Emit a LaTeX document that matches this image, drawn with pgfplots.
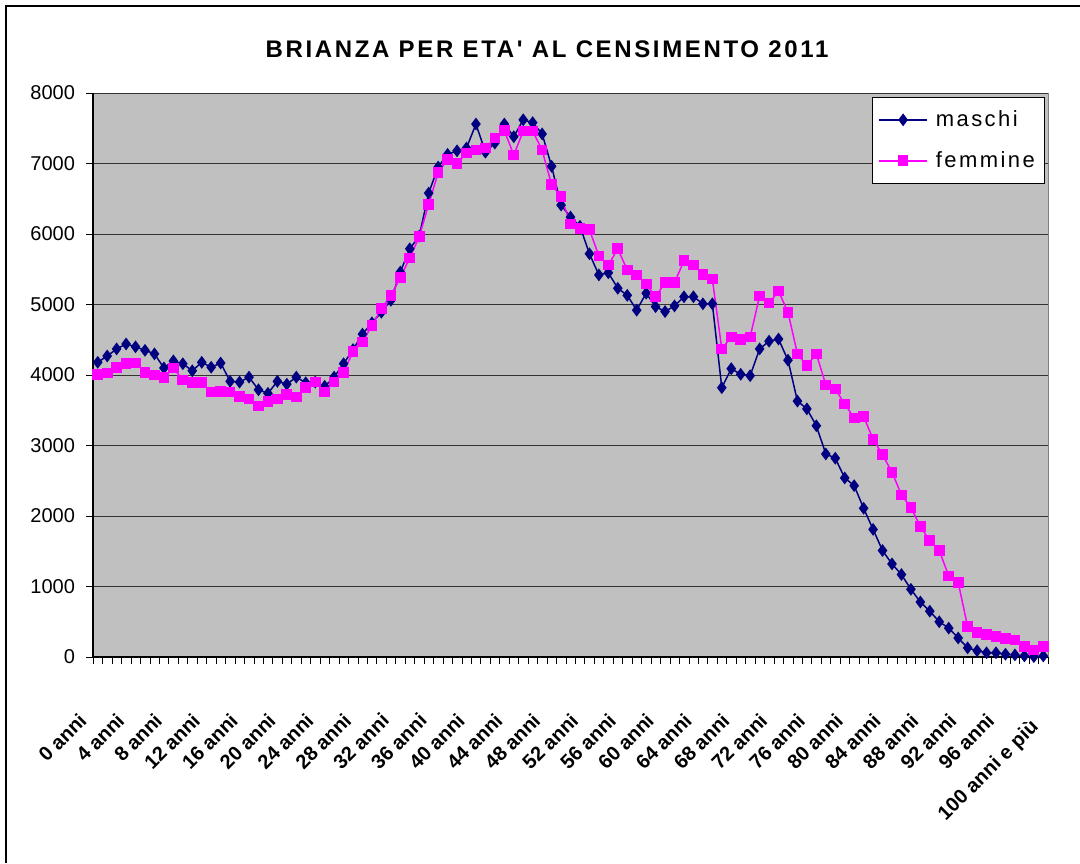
\documentclass[border=0pt]{standalone}
\usepackage{fontspec}
\setmainfont{Liberation Sans}
\newfontfamily\spacedfont[LetterSpace=11]{Liberation Sans}
\newfontfamily\titlefont[LetterSpace=11]{Liberation Sans}
\usepackage{pgfplots}
\usepackage{pgfplotstable}
\pgfplotsset{compat=1.18}

\definecolor{plotgray}{HTML}{C0C0C0}
\definecolor{maschi}{HTML}{000080}
\definecolor{femmine}{HTML}{FF00FF}

% residenti per eta' (maschi, femmine)
\pgfplotstableread{
eta maschi femmine
0 4180 4010
1 4270 4030
2 4370 4110
3 4440 4160
4 4400 4170
5 4350 4040
6 4300 4000
7 4100 3960
8 4200 4100
9 4160 3930
10 4060 3890
11 4180 3890
12 4110 3760
13 4170 3770
14 3910 3760
15 3900 3700
16 3970 3660
17 3790 3560
18 3740 3620
19 3910 3660
20 3870 3720
21 3970 3690
22 3890 3820
23 3900 3900
24 3840 3760
25 3970 3900
26 4160 4040
27 4360 4330
28 4580 4470
29 4740 4700
30 4890 4940
31 5060 5130
32 5460 5380
33 5790 5660
34 5970 5960
35 6580 6420
36 6950 6870
37 7130 7060
38 7180 7000
39 7220 7150
40 7560 7190
41 7160 7220
42 7290 7360
43 7560 7470
44 7380 7120
45 7620 7460
46 7580 7460
47 7420 7190
48 6960 6700
49 6410 6530
50 6240 6140
51 6110 6080
52 5720 6060
53 5420 5690
54 5450 5560
55 5230 5790
56 5130 5490
57 4920 5420
58 5160 5290
59 4970 5110
60 4900 5310
61 4980 5310
62 5110 5620
63 5110 5560
64 5010 5430
65 5010 5360
66 3820 4370
67 4090 4540
68 4010 4500
69 3990 4540
70 4370 5120
71 4480 5020
72 4510 5190
73 4210 4890
74 3630 4300
75 3520 4130
76 3280 4300
77 2880 3860
78 2820 3800
79 2540 3590
80 2430 3390
81 2110 3410
82 1810 3090
83 1510 2870
84 1320 2620
85 1170 2300
86 960 2120
87 780 1850
88 650 1650
89 500 1510
90 410 1150
91 270 1060
92 130 430
93 90 350
94 60 320
95 60 290
96 40 260
97 30 240
98 15 150
99 5 100
100 15 150
}\brianza

\begin{document}
\begin{tikzpicture}
\path[use as bounding box] (0,0) rectangle (540pt,431.5pt);
\draw[black, line width=0.6pt] (3pt,0) -- (3pt,428.5pt) -- (540pt,428.5pt);
\node[font=\titlefont\bfseries\fontsize{12}{14}\selectfont] at (273.5pt,407pt)
  {BRIANZA PER ETA' AL CENSIMENTO 2011};

\begin{axis}[
    at={(46.5pt,103pt)}, anchor=south west,
    scale only axis, width=477.5pt, height=282pt,
    xmin=-0.5, xmax=100.5, ymin=0, ymax=8000,
    clip=false,
    axis background/.style={fill=plotgray, draw=gray},
    axis x line*=bottom, axis y line*=left,
    axis line style={black, line width=0.6pt, -},
    tick align=outside,
    major tick length=3.5pt,
    ytick={0,1000,2000,3000,4000,5000,6000,7000,8000},
    ymajorgrids,
    major grid style={black!80, line width=0.5pt},
    tick style={black},
    /pgf/number format/assume math mode=true,
    /pgf/number format/set thousands separator={},
    yticklabel style={font=\fontsize{10}{12}\selectfont, xshift=-2pt},
    xtick={-0.5,0.5,...,100.5},
    xticklabels={},
    extra x ticks={0,4,8,12,16,20,24,28,32,36,40,44,48,52,56,60,64,68,72,76,80,84,88,92,96,100},
    extra x tick labels={0 anni,4 anni,8 anni,12 anni,16 anni,20 anni,24 anni,28 anni,32 anni,36 anni,40 anni,44 anni,48 anni,52 anni,56 anni,60 anni,64 anni,68 anni,72 anni,76 anni,80 anni,84 anni,88 anni,92 anni,96 anni,{\raisebox{-7.8pt}[0pt][0pt]{100 anni e più}\hspace{20pt}}},
    extra x tick style={major tick length=0pt, grid=none,
      tick label style={font=\bfseries\fontsize{10}{12}\selectfont,
        yshift=-27.5pt, xshift=-5pt, rotate=45, anchor=east}},
    legend cell align=left,
    legend style={at={(rel axis cs:0.997,0.993)}, anchor=north east,
      draw=black, fill=white, inner xsep=3pt, inner ysep=4.5pt,
      row sep=7pt, font=\spacedfont\fontsize{11}{13}\selectfont,
      /tikz/every odd column/.append style={column sep=2pt}},
    legend image code/.code={
      \draw[mark repeat=2, mark phase=2] plot coordinates {(0pt,0pt) (12pt,0pt) (24pt,0pt)};},
]
\addplot[color=maschi, line width=0.75pt, mark=diamond*, mark size=2.6pt]
  table[x=eta, y=maschi]{\brianza};
\addlegendentry{maschi}
\addplot[color=femmine, line width=0.75pt, mark=square*, mark size=2.3pt]
  table[x=eta, y=femmine]{\brianza};
\addlegendentry{femmine}
\end{axis}
\end{tikzpicture}
\end{document}
